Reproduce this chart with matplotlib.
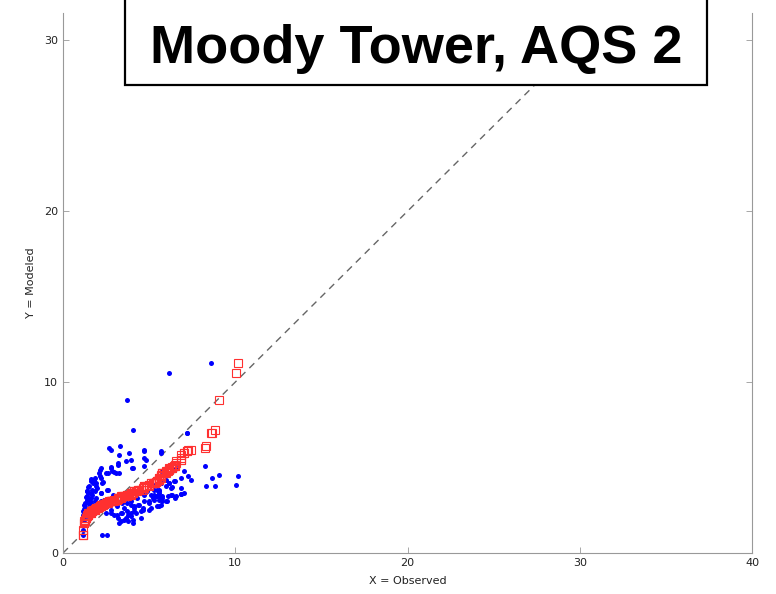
import matplotlib
matplotlib.use("Agg")
import matplotlib.pyplot as plt
import matplotlib.patches as patches
import numpy as np

# observed / modeled pairs
observed = [
    8.62, 6.16, 3.69, 4.04, 7.17, 7.21,
    2.68, 2.77, 3.29, 3.25, 3.83, 3.92, 3.64, 3.21, 4.02, 2.23, 2.77, 2.87,
    2.48, 3.06, 2.10, 2.19, 1.81, 1.62, 1.52, 1.91, 2.29, 2.00, 1.71, 1.42,
    1.62, 2.19, 2.58,
    1.42, 1.71, 1.42, 1.23, 1.33, 1.14, 1.23, 2.77, 3.16, 3.44, 3.73, 3.92,
    3.54, 3.35, 4.21, 4.12, 3.92, 3.73, 3.35, 3.16, 2.29, 2.58, 1.14, 1.14,
    4.72, 5.68, 4.72, 4.04, 4.72, 6.06, 5.77, 6.54, 6.83, 7.02, 5.68, 6.16,
    6.45, 5.97, 5.48, 6.25, 6.83, 7.02, 5.29, 5.58, 5.20, 5.77, 6.35,
    5.10, 5.39, 5.29, 5.58, 5.77, 5.97, 5.68, 5.48, 5.00, 4.72, 4.33, 4.14,
    3.95, 4.04, 4.52, 4.62, 5.00, 6.83, 6.54, 6.25, 5.58,
    4.73, 5.67, 3.18, 4.81, 2.79, 2.98, 2.17, 2.60, 2.12, 3.27, 1.60, 1.83,
    2.31, 1.73, 1.48, 1.93, 2.60, 1.44, 1.83, 2.21, 1.60, 1.83, 1.50, 2.21,
    2.79, 1.25, 1.73, 1.44, 3.75, 4.33, 4.71, 5.29, 5.48, 5.00, 4.42, 3.94,
    3.56, 3.37, 3.75, 4.14, 4.62, 5.10, 5.58, 3.18, 3.66, 4.04, 4.52, 3.27,
    3.75, 2.79, 2.50, 2.94,
    6.50, 6.35, 6.16, 6.50, 6.31, 7.23, 7.41, 8.27, 8.66, 9.08, 8.33, 8.81,
    10.16, 10.04, 6.83, 6.50, 6.12, 6.06, 5.68, 5.77, 5.58, 5.68, 5.58, 5.87,
    1.30, 1.36, 1.28, 1.55, 1.20, 1.38, 1.65, 1.90, 2.05, 2.40, 2.90, 3.45,
    4.30, 4.90, 5.35, 6.00, 1.18, 1.26, 1.46, 1.34,
]
modeled = [
    11.11, 10.53, 8.93, 7.21, 7.02, 7.00,
    6.14, 6.05, 6.24, 5.75, 5.85, 5.46, 5.36, 5.17, 4.97, 4.97, 4.97, 4.78,
    4.68, 4.68, 4.68, 4.39, 4.29, 4.19, 3.90, 4.10, 4.10, 3.80, 3.71, 3.61,
    3.51, 3.51, 3.71,
    3.60, 3.41, 3.12, 2.82, 2.53, 2.24, 1.95, 2.34, 2.24, 2.34, 2.43, 2.14,
    1.95, 1.85, 2.34, 2.73, 2.82, 2.92, 3.02, 2.73, 1.07, 1.07, 1.07, 1.36,
    6.05, 5.95, 5.56, 4.97, 5.07, 5.07, 4.78, 4.97, 4.39, 4.78, 4.10, 4.10,
    4.19, 3.90, 3.71, 3.80, 3.80, 3.51, 3.41, 3.51, 3.22, 3.32, 3.41,
    3.41, 3.31, 3.12, 3.12, 3.21, 3.02, 2.82, 2.73, 2.92, 3.02, 2.82, 2.63,
    2.34, 1.75, 2.43, 2.63, 2.53, 3.47, 3.31, 3.41, 3.60,
    5.98, 5.85, 5.26, 5.46, 5.01, 4.72, 4.83, 4.68, 4.48, 4.68, 4.33, 4.38,
    4.13, 4.09, 3.86, 3.90, 3.70, 3.51, 3.60, 3.51, 3.21, 3.02, 2.88, 3.02,
    2.96, 2.53, 2.63, 2.18, 3.31, 3.51, 3.41, 3.70, 3.31, 3.02, 2.82, 3.02,
    2.63, 2.34, 2.24, 2.43, 2.53, 2.63, 2.73, 2.04, 2.04, 1.95, 2.04, 1.75,
    1.85, 2.53, 2.34, 2.20,
    4.91, 4.77, 4.09, 4.19, 3.86, 4.48, 4.29, 5.07, 4.38, 4.54, 3.90, 3.94,
    4.48, 3.99, 3.47, 3.21, 3.31, 3.02, 3.21, 3.02, 3.70, 4.09, 3.31, 4.68,
    2.95, 3.25, 2.70, 3.05, 2.60, 3.35, 2.90, 3.20, 2.75, 3.10, 3.40, 2.90,
    3.20, 3.60, 4.00, 4.30, 2.45, 2.15, 3.15, 2.40,
]

# quantile-quantile pairs
qq_obs = np.sort(observed)
qq_mod = np.sort(modeled)

W, H = 776, 594
fig = plt.figure(figsize=(W / 100, H / 100), dpi=100)
ax = fig.add_axes([63 / W, (H - 553) / H, (752 - 63) / W, (553 - 13) / H])

ax.plot([0, 40], [0, 40], linestyle=(0, (5, 4)), color="#666666", lw=1.0, zorder=1)
ax.plot(observed, modeled, "o", color="#0000ff", markersize=3.6,
        markeredgewidth=0, zorder=2)
ax.plot(qq_obs, qq_mod, "s", markerfacecolor="none", markeredgecolor="#ff3030",
        markersize=6, markeredgewidth=0.8, zorder=3)

ax.set_xlim(0, 40)
ax.set_ylim(0, 31.6)
ax.set_xticks([0, 10, 20, 30, 40])
ax.set_yticks([0, 10, 20, 30])
ax.tick_params(direction="in", length=4, width=0.6, color="#999999",
               labelsize=8, labelcolor="#222222", right=True)
for side in ["left", "right", "bottom"]:
    ax.spines[side].set_color("#999999")
    ax.spines[side].set_linewidth(0.8)
ax.spines["top"].set_visible(False)

ax.set_xlabel("X = Observed", fontsize=8, color="#222222", labelpad=6)
ax.set_ylabel("Y = Modeled", fontsize=8, color="#222222", labelpad=6)

# title box sitting at the top of the plot
box = patches.Rectangle((125 / W, (H - 85) / H), (707 - 125) / W, 0.3,
                        transform=fig.transFigure, facecolor="white",
                        edgecolor="black", linewidth=1.6, zorder=10)
fig.patches.append(box)
fig.text(416 / W, (H - 63) / H, "Moody Tower, AQS 2", ha="center", va="baseline",
         fontsize=39, fontweight="bold", family="Liberation Sans", zorder=11)

fig.savefig("out.png", dpi=100)
